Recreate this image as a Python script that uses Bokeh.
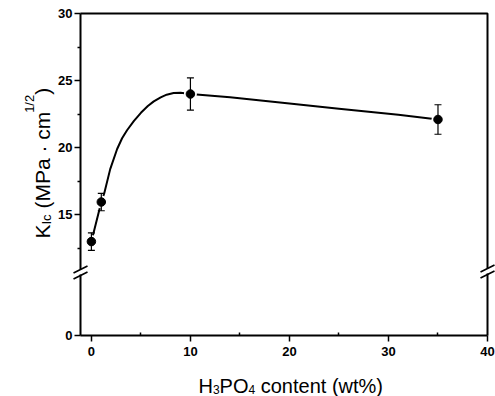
import math
from bokeh.plotting import figure
from bokeh.models import (Range1d, FixedTicker, Label, Whisker, TeeHead,
                          ColumnDataSource)
from bokeh.embed import file_html
from bokeh.resources import INLINE

# ---------------- data ----------------
h3po4_wt = [0, 1, 10, 35]
kic = [13.0, 15.95, 24.0, 22.1]
kic_err = [0.65, 0.65, 1.2, 1.1]

# smooth guide curve
curve_x = [0, 1, 1.3, 1.9, 2.6, 3.1, 3.6, 4.3, 5.0, 5.7, 6.3, 7.0, 7.6, 8.3, 9.0, 10,
           14, 20, 25, 31, 35]
curve_y = [13.0, 15.95, 16.6, 18.4, 19.9, 20.7, 21.3, 22.0, 22.6, 23.1, 23.45, 23.75,
           23.95, 24.07, 24.1, 24.0, 23.75, 23.3, 22.9, 22.45, 22.1]

x_ticks = [0, 10, 20, 30, 40]
x_minor = [5, 15, 25, 35]
y_tick_values = [0, 15, 20, 25, 30]
y_tick_labels = ["0", "15", "20", "25", "30"]
y_minor = [12.5, 17.5, 22.5, 27.5]

# ---------------- layout ----------------
W, H = 495, 396
FL, FR, FT, FB = 80, 487, 13, 335           # plot-box edges in px
X0, X1 = -1.1, 40.0
ZERO_POS = 6.0                               # axis position where the broken axis shows "0"
Y0, Y1 = ZERO_POS, 30.0
KX = (X1 - X0) / (FR - FL)
KY = (Y1 - Y0) / (FB - FT)
NBSP = "\u00a0"


def ypos(v):
    return ZERO_POS if v == 0 else v


def px2x(px):
    return X0 + (px - FL) * KX


def py2y(py):
    return Y0 + (FB - py) * KY


p = figure(width=W, height=H, output_backend="svg", toolbar_location=None,
           x_range=Range1d(X0 - FL * KX, X1 + (W - FR) * KX),
           y_range=Range1d(Y0 - (H - FB) * KY, Y1 + FT * KY),
           min_border=0)
p.background_fill_color = "white"
p.border_fill_color = "white"
p.xgrid.visible = False
p.ygrid.visible = False
p.outline_line_color = None

tick_font = "Liberation Sans"
for ax in (p.xaxis[0], p.yaxis[0]):
    ax.axis_line_width = 2
    ax.axis_line_color = "black"
    ax.major_tick_line_width = 1.5
    ax.minor_tick_line_width = 1.5
    ax.major_label_text_font = tick_font
    ax.major_label_text_font_style = "bold"
    ax.major_label_text_font_size = "13px"
    ax.major_label_text_color = "black"
    ax.axis_label = None

p.xaxis.fixed_location = Y0
p.xaxis.bounds = (X0, X1)
p.xaxis.ticker = FixedTicker(ticks=x_ticks, minor_ticks=x_minor)
p.xaxis.major_tick_out = 6
p.xaxis.major_tick_in = 0
p.xaxis.minor_tick_in = 3
p.xaxis.minor_tick_out = 0
p.xaxis.major_label_standoff = 5

p.yaxis.fixed_location = X0
p.yaxis.bounds = (Y0, Y1)
p.yaxis.ticker = FixedTicker(ticks=[ypos(v) for v in y_tick_values], minor_ticks=y_minor)
p.yaxis.major_label_overrides = {ypos(v): s for v, s in zip(y_tick_values, y_tick_labels)}
p.yaxis.major_tick_out = 6
p.yaxis.major_tick_in = 0
p.yaxis.minor_tick_out = 3
p.yaxis.minor_tick_in = 0
p.yaxis.major_label_standoff = 2

# top and right borders of the plot box
p.line([X0, X1, X1], [Y1, Y1, Y0], line_color="black", line_width=2)

# curve
p.line(curve_x, curve_y, line_color="black", line_width=2, line_join="round")

# markers with a small white gap around them
p.scatter(h3po4_wt, kic, size=13, fill_color="white", line_color=None)
p.scatter(h3po4_wt, kic, size=8.5, fill_color="black", line_color="black")

src = ColumnDataSource(dict(x=h3po4_wt,
                            upper=[k + e for k, e in zip(kic, kic_err)],
                            lower=[k - e for k, e in zip(kic, kic_err)]))
wh = Whisker(base="x", upper="upper", lower="lower", source=src,
             dimension="height", line_width=1.2, line_color="black", level="overlay",
             upper_head=TeeHead(size=7, line_width=1.2, line_color="black"),
             lower_head=TeeHead(size=7, line_width=1.2, line_color="black"))
p.add_layout(wh)


# axis breaks
def add_break(cx, cy):
    r = p.segment(x0=[px2x(cx)], y0=[py2y(cy - 3)], x1=[px2x(cx)], y1=[py2y(cy + 2)],
                  line_color="white", line_width=4)
    r.level = "overlay"
    for dy in (-3, 3):
        s = p.segment(x0=[px2x(cx - 7)], y0=[py2y(cy + dy + 3.5)],
                      x1=[px2x(cx + 7)], y1=[py2y(cy + dy - 3.5)],
                      line_color="black", line_width=1.8)
        s.level = "overlay"


add_break(FL, 272)
add_break(FR, 271)

# axis titles
title_font = "Liberation Sans"


def lab(x, y, text, size, angle=0.0):
    p.add_layout(Label(x=px2x(x), y=py2y(y), text=text, angle=angle,
                       text_font=title_font, text_font_size=f"{size}px",
                       text_color="black", text_align="left",
                       text_baseline="alphabetic"))


# x title: H3PO4 content (wt%)
sx = 198
lab(sx, 385, "H", 20); sx += 0.722 * 20
lab(sx, 389, "3", 12); sx += 0.556 * 12
lab(sx, 385, "PO", 20); sx += (0.667 + 0.778) * 20
lab(sx, 389, "4", 12); sx += 0.556 * 12
lab(sx, 385, NBSP + "content (wt%)", 20)

# y title: K_Ic (MPa · cm^1/2), rotated
a = math.pi / 2
sy = 238
lab(42, sy, "K", 21, a); sy -= 0.667 * 21
lab(46, sy, "Ic", 13, a); sy -= 0.778 * 13
lab(42, sy, NBSP + "(MPa · cm", 21, a); sy -= 4.834 * 21
lab(29, sy, "1/2", 13, a); sy -= 1.39 * 13
lab(42, sy, ")", 21, a)

open("out.html", "w").write(file_html(p, INLINE))
